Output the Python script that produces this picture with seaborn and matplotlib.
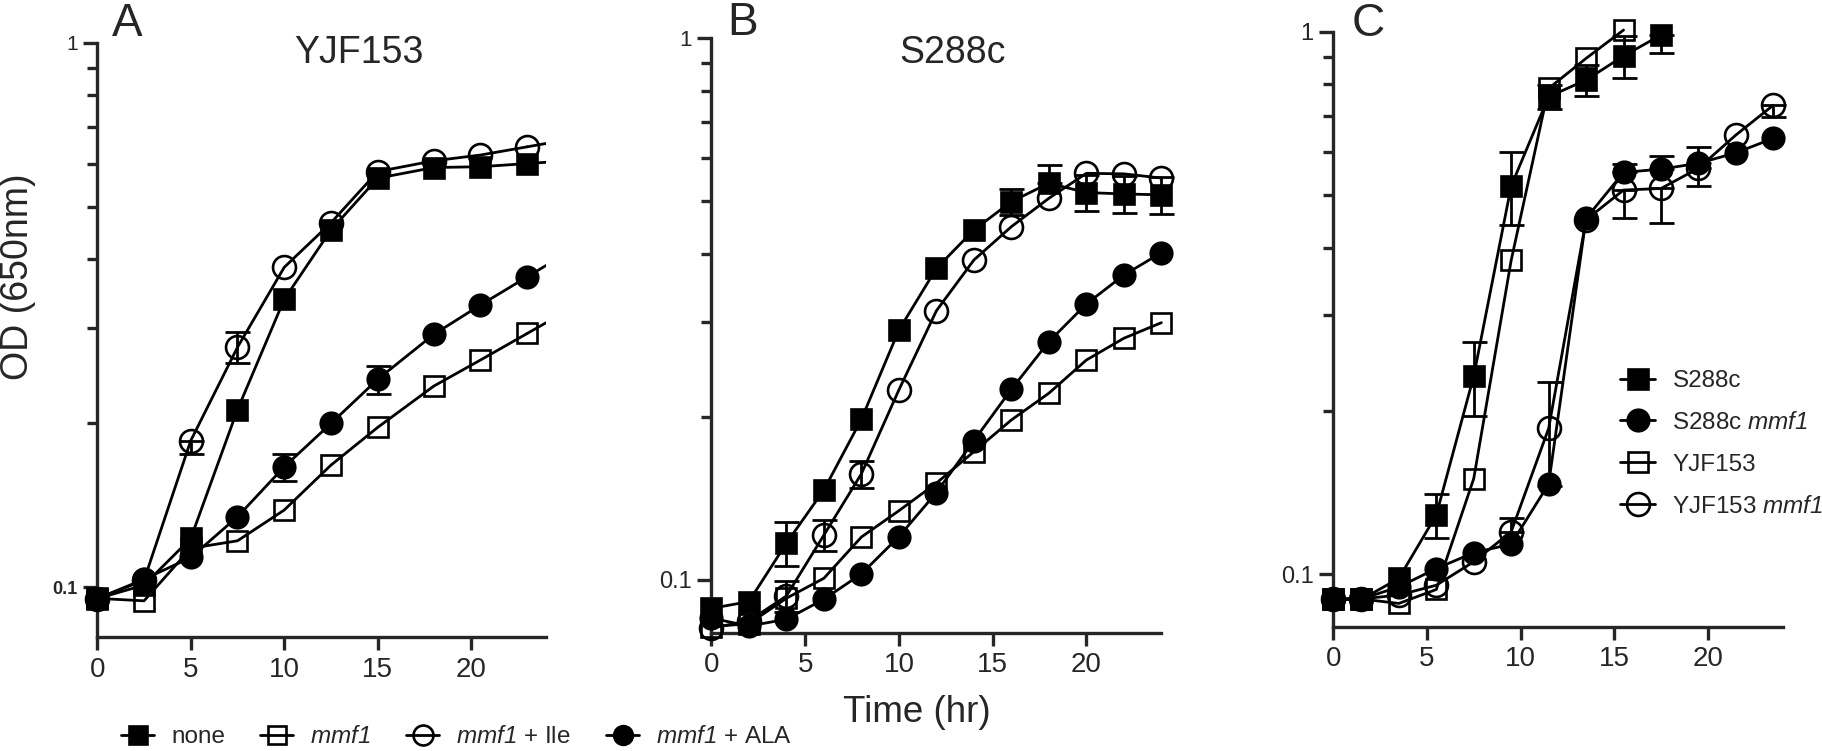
import numpy as np
import matplotlib
matplotlib.use('Agg')
import matplotlib.pyplot as plt
import seaborn as sns
from matplotlib.lines import Line2D
from matplotlib.ticker import FixedLocator, NullFormatter

# ---- data (OD 650nm vs time in hours) ----
# Panel A: YJF153
time_a = [0, 2.5, 5, 7.5, 10, 12.5, 15, 18, 20.5, 23]
a_none = [0.0954, 0.101, 0.123, 0.212, 0.338, 0.453, 0.564, 0.590, 0.592, 0.600]
a_mmf1 = [0.0955, 0.0945, 0.118, 0.1218, 0.1387, 0.1677, 0.1967, 0.2342, 0.2615, 0.2926]
a_ile = [0.0954, 0.1031, 0.186, 0.276, 0.387, 0.467, 0.580, 0.607, 0.622, 0.644]
a_ala = [0.0954, 0.1035, 0.1135, 0.1348, 0.1665, 0.200, 0.241, 0.2914, 0.330, 0.3717]
a_ile_lo = [0, 0, 0.010, 0.018, 0, 0, 0, 0, 0, 0]
a_ile_hi = [0, 0, 0, 0.018, 0, 0, 0, 0, 0, 0]
a_ala_err = [0, 0, 0, 0, 0.0095, 0, 0.0145, 0, 0, 0]

# Panel B: S288c
time_b = [0, 2, 4, 6, 8, 10, 12, 14, 16, 18, 20, 22, 24]
b_none = [0.0886, 0.0912, 0.1169, 0.1466, 0.198, 0.2893, 0.376, 0.4427, 0.4994, 0.540, 0.519, 0.516, 0.514]
b_mmf1 = [0.082, 0.083, 0.0925, 0.1007, 0.120, 0.1342, 0.1509, 0.1725, 0.1974, 0.2212, 0.2547, 0.2794, 0.2985]
b_ile = [0.0815, 0.084, 0.0934, 0.121, 0.157, 0.2243, 0.314, 0.3897, 0.449, 0.5066, 0.5633, 0.562, 0.552]
b_ala = [0.085, 0.0822, 0.0846, 0.0921, 0.1026, 0.1202, 0.145, 0.1808, 0.2249, 0.2754, 0.3232, 0.3656, 0.4019]
b_none_lo = [0, 0, 0.011, 0, 0, 0, 0, 0, 0.027, 0, 0.04, 0.04, 0.04]
b_none_hi = [0, 0, 0.011, 0, 0, 0, 0, 0, 0.027, 0.044, 0.04, 0.04, 0.04]
b_ile_err = [0, 0, 0.006, 0.008, 0.009, 0, 0, 0, 0, 0, 0, 0, 0]

# Panel C: strains and mmf1 mutants
time_c = [0, 1.5, 3.5, 5.5, 7.5, 9.5, 11.5, 13.5, 15.5, 17.5, 19.5, 21.5, 23.5]
c_s288c = [0.0898, 0.0898, 0.0982, 0.1285, 0.2318, 0.5194, 0.759, 0.8146, 0.902, 0.986]
c_s288c_mmf1 = [0.090, 0.090, 0.0947, 0.1024, 0.1095, 0.1136, 0.1466, 0.4528, 0.5503, 0.558, 0.572, 0.598, 0.636]
c_yjf153 = [0.090, 0.090, 0.0883, 0.0937, 0.150, 0.379, 0.786, 0.893, 1.007]
c_yjf153_mmf1 = [0.090, 0.090, 0.0915, 0.0954, 0.1054, 0.1197, 0.1856, 0.450, 0.5106, 0.514, 0.560, 0.645, 0.732]
c_s288c_lo = [0, 0, 0, 0.012, 0.036, 0.08, 0.04, 0.055, 0.08, 0.074]
c_s288c_hi = [0, 0, 0, 0.012, 0.036, 0.08, 0.04, 0.055, 0.08, 0]
c_s288c_mmf1_hi = [0, 0, 0, 0, 0, 0, 0, 0, 0.021, 0.032, 0.04, 0, 0]
c_yjf153_mmf1_lo = [0, 0, 0, 0, 0, 0, 0.04, 0, 0.058, 0.07, 0.04, 0, 0.035]
c_yjf153_mmf1_hi = [0, 0, 0, 0, 0, 0.007, 0.04, 0, 0, 0, 0, 0, 0]

# gene name set in italics (digit included) through mathtext's rm slot
legend_a = ['none', r'$\mathrm{mmf1}$', r'$\mathrm{mmf1}$ + Ile', r'$\mathrm{mmf1}$ + ALA']
legend_c = ['S288c', r'S288c $\mathrm{mmf1}$', 'YJF153', r'YJF153 $\mathrm{mmf1}$']

# ---- style ----
sns.set_style('ticks')
plt.rcParams['font.family'] = ['Liberation Sans', 'DejaVu Sans']
plt.rcParams['mathtext.fontset'] = 'custom'
plt.rcParams['mathtext.rm'] = 'Liberation Sans:italic'
plt.rcParams['mathtext.it'] = 'Liberation Sans:italic'
plt.rcParams['mathtext.bf'] = 'Liberation Sans:bold'

W, H = 1822, 751
fig = plt.figure(figsize=(W / 100, H / 100), dpi=100)


def fx(px):
    return px / W


def fy(py):
    return 1 - py / H


LW = 2.0
MEW = 1.9
marker_kw = {
    'filled_square': dict(marker='s', markersize=15, markerfacecolor='black'),
    'open_square': dict(marker='s', markersize=15, markerfacecolor='none'),
    'open_circle': dict(marker='o', markersize=16.5, markerfacecolor='none'),
    'filled_circle': dict(marker='o', markersize=15.5, markerfacecolor='black'),
}


def draw(ax, t, y, kind, lo=None, hi=None, extend_to=None):
    t = np.asarray(t[:len(y)], float)
    y = np.asarray(y, float)
    if lo is not None or hi is not None:
        lo = np.zeros(len(y)) if lo is None else np.asarray(lo, float)
        hi = np.zeros(len(y)) if hi is None else np.asarray(hi, float)
        keep = (lo + hi) > 0
        ax.errorbar(t[keep], y[keep], yerr=[lo[keep], hi[keep]], fmt='none',
                    ecolor='black', elinewidth=2.0, capsize=9, capthick=2.0,
                    clip_on=False, zorder=2)
    sns.lineplot(x=t, y=y, ax=ax, color='black', linewidth=LW,
                 markeredgecolor='black', markeredgewidth=MEW,
                 clip_on=False, zorder=3, errorbar=None, sort=False,
                 legend=False, **marker_kw[kind])
    if extend_to is not None:
        # curve carries on past the last point up to the axis end
        slope = np.log10(y[-1] / y[-2]) / (t[-1] - t[-2])
        y_end = y[-1] * 10 ** (slope * (extend_to - t[-1]))
        sns.lineplot(x=[t[-1], extend_to], y=[y[-1], y_end], ax=ax,
                     color='black', linewidth=LW, zorder=3, errorbar=None,
                     sort=False, legend=False)


def style_axis(ax, ybottom):
    ax.set_yscale('log')
    ax.set_xlim(0, 24)
    ax.set_ylim(ybottom, 1)
    ax.set_xticks([0, 5, 10, 15, 20])
    ax.set_xticklabels(['0', '5', '10', '15', '20'], fontsize=20)
    ax.yaxis.set_major_locator(FixedLocator([0.1, 1]))
    ax.yaxis.set_minor_locator(FixedLocator([0.2, 0.3, 0.4, 0.5, 0.6, 0.7, 0.8, 0.9]))
    ax.yaxis.set_minor_formatter(NullFormatter())
    ax.set_yticks([0.1, 1])
    ax.set_yticklabels(['0.1', '1'])
    for s in ['top', 'right']:
        ax.spines[s].set_visible(False)
    for s in ['left', 'bottom']:
        ax.spines[s].set_linewidth(2.4)
    ax.tick_params(axis='y', which='major', length=10, width=2.4, pad=4)
    ax.tick_params(axis='y', which='minor', length=7.5, width=2.4)
    ax.tick_params(axis='x', which='major', length=9, width=2.4, pad=5)
    ax.set_xlabel('')
    ax.set_ylabel('')
    ax.set_facecolor('none')


ax_a = fig.add_axes([fx(97.3), fy(637.3), fx(545.9 - 97.3), (637.3 - 42.7) / H])
ax_b = fig.add_axes([fx(711.4), fy(632.7), fx(1161.4 - 711.4), (632.7 - 38.3) / H])
ax_c = fig.add_axes([fx(1333.3), fy(626.7), fx(1782.7 - 1333.3), (626.7 - 31.7) / H])

# Panel A
draw(ax_a, time_a, a_mmf1, 'open_square', extend_to=24)
draw(ax_a, time_a, a_ala, 'filled_circle', lo=a_ala_err, hi=a_ala_err, extend_to=24)
draw(ax_a, time_a, a_ile, 'open_circle', lo=a_ile_lo, hi=a_ile_hi, extend_to=24)
draw(ax_a, time_a, a_none, 'filled_square', extend_to=24)
style_axis(ax_a, 0.0810)
lab = ax_a.get_yticklabels()
lab[0].set_fontsize(13)
lab[0].set_fontweight('bold')
lab[1].set_fontsize(15)

# Panel B
draw(ax_b, time_b, b_mmf1, 'open_square')
draw(ax_b, time_b, b_ala, 'filled_circle')
draw(ax_b, time_b, b_ile, 'open_circle', lo=b_ile_err, hi=b_ile_err)
draw(ax_b, time_b, b_none, 'filled_square', lo=b_none_lo, hi=b_none_hi)
style_axis(ax_b, 0.0799)
lab = ax_b.get_yticklabels()
lab[0].set_fontsize(17)
lab[1].set_fontsize(16)

# Panel C
draw(ax_c, time_c, c_yjf153, 'open_square')
draw(ax_c, time_c, c_yjf153_mmf1, 'open_circle', lo=c_yjf153_mmf1_lo, hi=c_yjf153_mmf1_hi)
draw(ax_c, time_c, c_s288c_mmf1, 'filled_circle', hi=c_s288c_mmf1_hi)
draw(ax_c, time_c, c_s288c, 'filled_square', lo=c_s288c_lo, hi=c_s288c_hi)
style_axis(ax_c, 0.0800)
lab = ax_c.get_yticklabels()
lab[0].set_fontsize(17)
lab[1].set_fontsize(17)


def handle(kind, ms_scale=1.0):
    kw = dict(marker_kw[kind])
    kw['markersize'] = kw['markersize'] * ms_scale
    return Line2D([0], [0], color='black', linewidth=LW, markeredgecolor='black',
                  markeredgewidth=MEW, **kw)


# legend for panel C
hc = [handle('filled_square'), handle('filled_circle'), handle('open_square'), handle('open_circle')]
ax_c.legend(hc, legend_c, loc='upper left', bbox_to_anchor=(fx(1620), fy(370)),
            bbox_transform=fig.transFigure, frameon=False, fontsize=17.5,
            handlelength=1.44, handletextpad=0.72, labelspacing=0.82,
            borderpad=0, borderaxespad=0)

# shared legend under panels A/B
ha = [handle('filled_square', 0.87), handle('open_square', 0.87),
      handle('open_circle', 0.87), handle('filled_circle', 0.87)]
fig.legend(ha, legend_a, loc='center left', bbox_to_anchor=(fx(121), fy(737)),
           ncol=4, frameon=False, fontsize=17.5,
           handlelength=1.36, handletextpad=0.7, columnspacing=1.45,
           borderpad=0, borderaxespad=0)

# panel letters, titles and axis labels
fig.text(fx(111.7), fy(36), 'A', fontsize=33, ha='left', va='baseline')
fig.text(fx(727), fy(35), 'B', fontsize=33, ha='left', va='baseline')
fig.text(fx(1351.7), fy(35.5), 'C', fontsize=33, ha='left', va='baseline')
fig.text(fx(359), fy(63.3), 'YJF153', fontsize=27, ha='center', va='baseline')
fig.text(fx(952.5), fy(63.3), 'S288c', fontsize=27, ha='center', va='baseline')
fig.text(fx(18), fy(276.5), 'OD (650nm)', fontsize=27, rotation=90, ha='center', va='center')
fig.text(fx(916.7), fy(721.7), 'Time (hr)', fontsize=26.5, ha='center', va='baseline')

fig.savefig('out.png', dpi=100, facecolor='white')
